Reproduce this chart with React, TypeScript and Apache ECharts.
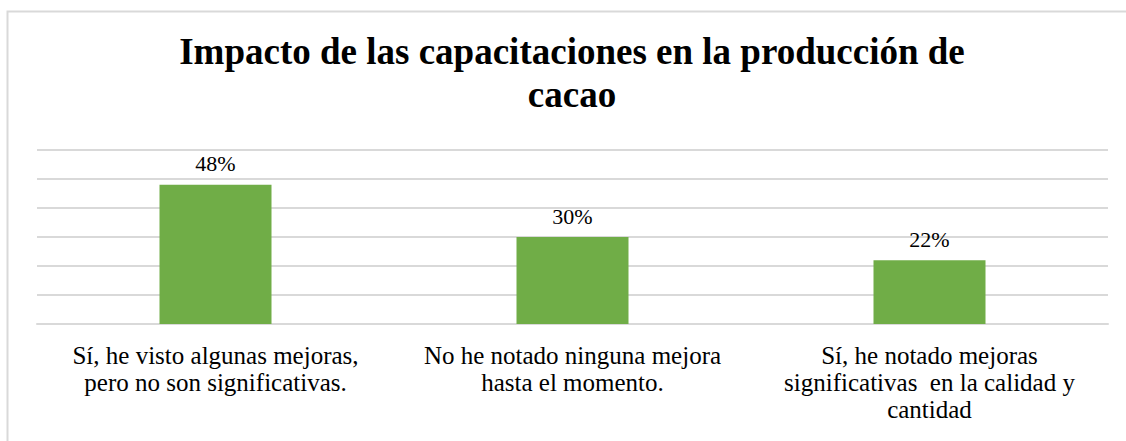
import React, { useEffect, useRef } from "react";
import * as echarts from "echarts";

const categories = [
  "Sí, he visto algunas mejoras,\npero no son significativas.",
  "No he notado ninguna mejora\nhasta el momento.",
  "Sí, he notado mejoras\nsignificativas  en la calidad y\ncantidad",
];
const values = [48, 30, 22];
const titleText = "Impacto de las capacitaciones en la producción de\ncacao";

export default function App() {
  const ref = useRef<HTMLDivElement>(null);
  useEffect(() => {
    const chart = echarts.init(ref.current!, null, { renderer: "svg" });
    const font = "Liberation Serif";
    chart.setOption({
      animation: false,
      backgroundColor: "#ffffff",
      graphic: [
        {
          type: "rect",
          shape: { x: 7.5, y: 11.5, width: 1130, height: 450 },
          style: { fill: "none", stroke: "#d9d9d9", lineWidth: 2 },
          silent: true,
        },
        {
          type: "text",
          x: 572,
          y: 30,
          silent: true,
          style: {
            text: titleText,
            textAlign: "center",
            textVerticalAlign: "top",
            fontFamily: font,
            fontWeight: "bold",
            fontSize: 37,
            lineHeight: 43,
            fill: "#000000",
          },
        },
      ],
      grid: { left: 37, right: 18, top: 150, bottom: 117 },
      xAxis: {
        type: "category",
        data: categories,
        axisTick: { show: false },
        axisLine: { show: true, lineStyle: { color: "#d9d9d9", width: 2 } },
        axisLabel: {
          interval: 0,
          margin: 18,
          fontFamily: font,
          fontSize: 25,
          lineHeight: 27,
          color: "#000000",
        },
      },
      yAxis: {
        type: "value",
        min: 0,
        max: 60,
        interval: 10,
        axisLabel: { show: false },
        axisLine: { show: false },
        axisTick: { show: false },
        splitLine: { lineStyle: { color: "#d9d9d9", width: 2 } },
      },
      series: [
        {
          type: "bar",
          data: values,
          barWidth: 112,
          itemStyle: { color: "#70ad47" },
          label: {
            show: true,
            position: "top",
            distance: 10,
            formatter: "{c}%",
            fontFamily: font,
            fontSize: 22,
            color: "#000000",
          },
        },
      ],
    });
    return () => chart.dispose();
  }, []);
  return (
    <div
      ref={ref}
      style={{ position: "absolute", left: 0, top: 0, width: 1126, height: 441 }}
    />
  );
}
